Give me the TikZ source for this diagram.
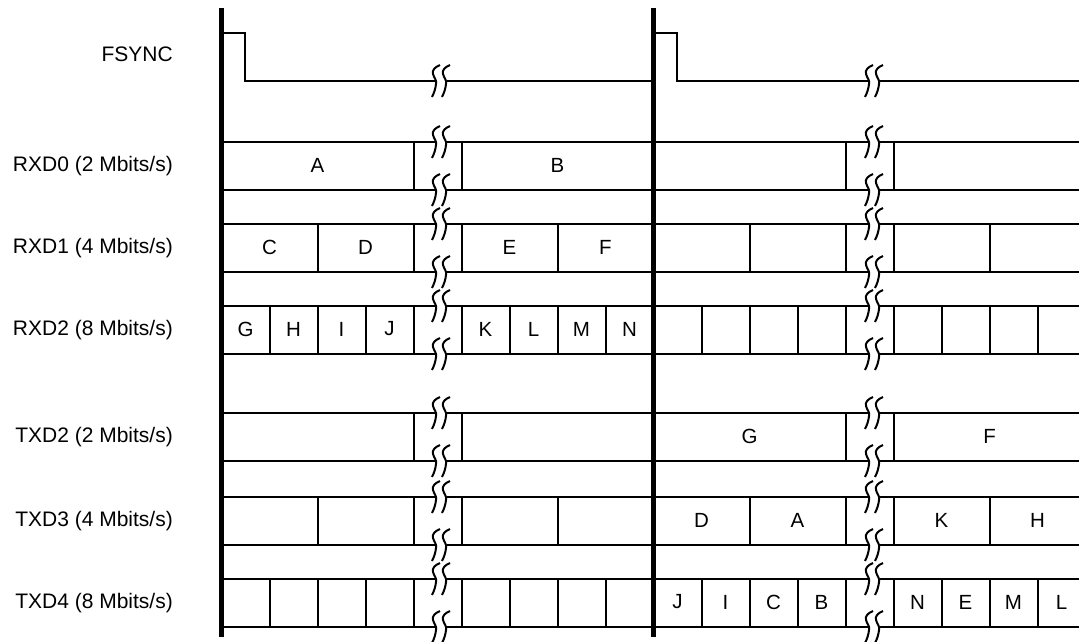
\documentclass[tikz,border=0pt]{standalone}
\usepackage{fontspec}
\setmainfont{Liberation Sans}
\usepackage{tikz}
\tikzset{
  sigline/.style   = {draw=black, line width=2pt},
  frameline/.style = {draw=black, line width=5pt},
  siglab/.style    = {anchor=east, inner sep=0pt, font=\fontsize{21}{25}\selectfont},
  cellab/.style    = {inner sep=0pt, font=\fontsize{20.5}{24}\selectfont},
  brkmark/.pic = {
    \fill[white] (-1,-16) .. controls (-6,-14) and (-9,-11) .. (-8,-7)
      .. controls (-7,-3) and (-4,-1) .. (-5,3)
      .. controls (-5.5,8) and (-7,12) .. (-9,16) -- (1,16)
      .. controls (3,12) and (4.5,8) .. (5,3)
      .. controls (6,-1) and (3,-3) .. (2,-7)
      .. controls (1,-11) and (4,-14) .. (9,-16) -- cycle;
    \draw[sigline] (-1,-16) .. controls (-6,-14) and (-9,-11) .. (-8,-7)
      .. controls (-7,-3) and (-4,-1) .. (-5,3)
      .. controls (-5.5,8) and (-7,12) .. (-9,16);
    \draw[sigline] (9,-16) .. controls (4,-14) and (1,-11) .. (2,-7)
      .. controls (3,-3) and (6,-1) .. (5,3)
      .. controls (4.5,8) and (3,12) .. (1,16);
  },
}

\begin{document}
\begin{tikzpicture}[x=1pt, y=-1pt, line cap=butt, line join=miter]
  \useasboundingbox (0,0) rectangle (1079,641);
  \node[siglab] (lab-fsync) at (173,54) {FSYNC};
  \draw[sigline] (221.5,33) -- (245,33) -- (245,81) -- (653.5,81);
  \draw[sigline] (653.5,33) -- (677,33) -- (677,81) -- (1079,81);
  \foreach \ty/\nm/\rate in {142/RXD0/2, 224/RXD1/4, 306/RXD2/8,
                             413/TXD2/2, 497/TXD3/4, 579/TXD4/8}{%
    \draw[sigline] (221.5,\ty) -- (1079,\ty) (221.5,\ty+48) -- (1079,\ty+48);
    \node[siglab] (lab-\nm) at (173,\ty+24) {\nm\ (\rate\ Mbits/s)};}
  \foreach \ty/\ks in {142/{4,5}, 224/{2,4,5,7}, 306/{1,...,8},
                       413/{4,5}, 497/{2,4,5,7}, 579/{1,...,8}}{%
    \foreach \xo in {221.5,653.5}{\foreach \k in \ks{%
      \draw[sigline] (\xo+\k*48,\ty) -- (\xo+\k*48,\ty+48);}}}
  \foreach \cx/\cy/\ch in {317.5/166/A, 557.5/166/B,
      269.5/248/C, 365.5/248/D, 509.5/248/E, 605.5/248/F,
      245.5/330/G, 293.5/330/H, 341.5/330/I, 389.5/330/J,
      485.5/330/K, 533.5/330/L, 581.5/330/M, 629.5/330/N,
      749.5/437/G, 989.5/437/F,
      701.5/521/D, 797.5/521/A, 941.5/521/K, 1037.5/521/H,
      677.5/603/J, 725.5/603/I, 773.5/603/C, 821.5/603/B,
      917.5/603/N, 965.5/603/E, 1013.5/603/M, 1061.5/603/L}{%
    \node[cellab] (cell-\ch-\cy) at (\cx,\cy-1) {\ch};}
  \foreach \bx in {441,874}{%
    \pic at (\bx,81) {brkmark};
    \foreach \ty in {142,224,306,413,497,579}{%
      \pic at (\bx,\ty) {brkmark};
      \pic at (\bx,\ty+48) {brkmark};}}
  \draw[frameline] (221.5,8) -- (221.5,637);
  \draw[frameline] (653.5,8) -- (653.5,637);
\end{tikzpicture}
\end{document}
